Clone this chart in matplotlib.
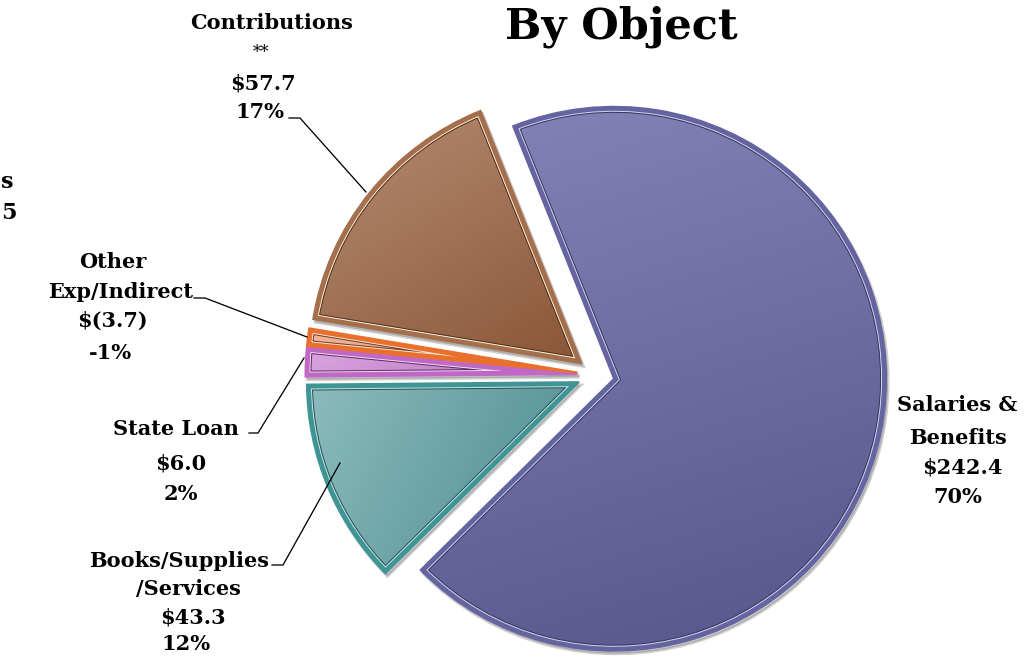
import matplotlib
matplotlib.use("Agg")
import matplotlib.pyplot as plt
import numpy as np
from matplotlib.patches import PathPatch
from matplotlib.colors import LinearSegmentedColormap
from matplotlib.transforms import offset_copy

# ---- data -------------------------------------------------------------
categories = ["Salaries &\nBenefits", "Books/Supplies\n/Services", "State Loan",
              "Other\nExp/Indirect", "Contributions"]
amounts = [242.4, 43.3, 6.0, -3.7, 57.7]          # $ millions
amount_labels = ["$242.4", "$43.3", "$6.0", "$(3.7)", "$57.7"]
percent_labels = ["70%", "12%", "2%", "-1%", "17%"]
title = "By Object"

# ---- styling ----------------------------------------------------------
# (light fill, dark fill, border, highlight line, inner shade line, gradient direction)
slice_styles = [
    ("#8484b8", "#55558b", "#6464a0", "#d4d4ee", "#35355e", (0.25, -1.0)),
    ("#8cbcbf", "#4b8b8d", "#3f9496", "#cde6e6", "#244f50", (1.0, -0.35)),
    ("#dca6e0", "#b46dbc", "#bf68c6", "#f4d6f4", "#5e2f64", (1.0, -0.2)),
    ("#f2b497", "#e08d6c", "#e86f2c", "#ffe2cc", "#6e3f2e", (1.0, -0.2)),
    ("#b78d74", "#8a5636", "#a46f4c", "#fff0dc", "#4e2c18", (0.55, -0.85)),
]
explode = [0.068] * len(amounts)

W, H = 1031, 660
R_PX = 272.0                 # pie radius in pixels
CX, CY = 596.0, 375.0        # pie centre in pixels (from top-left)

serif = ["DejaVu Serif"]

fig = plt.figure(figsize=(W / 100, H / 100), dpi=100)
fig.patch.set_facecolor("white")

# pie axes: one data unit == one pie radius
ax = fig.add_axes([0, 0, 1, 1])
sizes = np.abs(amounts)
wedges, _ = ax.pie(sizes, radius=1.0, center=(0, 0), startangle=111.8,
                   counterclock=False, explode=explode,
                   wedgeprops=dict(facecolor="none", linewidth=0))
ax.set_xlim(-CX / R_PX, (W - CX) / R_PX)
ax.set_ylim(-(H - CY) / R_PX, CY / R_PX)
ax.set_aspect("equal")
ax.axis("off")

pt = 0.72         # one pixel in points at 100 dpi

shadow_tr = offset_copy(ax.transData, fig=fig, x=2, y=-3, units="dots")

for w, (light, dark, border, hilite, shade, gdir) in zip(wedges, slice_styles):
    path = w.get_path()
    verts = path.vertices
    x0, y0 = verts.min(axis=0)
    x1, y1 = verts.max(axis=0)

    # soft drop shadow
    sh = PathPatch(path, transform=shadow_tr, facecolor="#000000", alpha=0.18,
                   edgecolor="#000000", linewidth=3 * pt, zorder=0.5)
    ax.add_patch(sh)

    # gradient fill clipped to the wedge
    gx, gy = np.meshgrid(np.linspace(0, 1, 200), np.linspace(0, 1, 200))
    dx, dy = gdir
    g = gx * dx + gy * dy
    g = (g - g.min()) / (g.max() - g.min())
    cmap = LinearSegmentedColormap.from_list("fill", [light, dark])
    im = ax.imshow(g, cmap=cmap, origin="lower", extent=(x0, x1, y0, y1),
                   interpolation="bilinear", zorder=1, aspect="auto")
    im.set_clip_path(w)

    # layered inner outline: shade line, highlight line, coloured border
    for lw_px, col in ((6, shade), (5, hilite), (4, border)):
        p = PathPatch(path, transform=ax.transData, facecolor="none",
                      edgecolor=col, linewidth=2 * lw_px * pt,
                      joinstyle="miter", zorder=2)
        ax.add_patch(p)
        p.set_clip_path(w)
    outer = PathPatch(path, transform=ax.transData, facecolor="none",
                      edgecolor=border, linewidth=2 * pt, joinstyle="miter",
                      zorder=3)
    ax.add_patch(outer)

ax.set_xlim(-CX / R_PX, (W - CX) / R_PX)
ax.set_ylim(-(H - CY) / R_PX, CY / R_PX)

# overlay axes in pixel coordinates for labels and leader lines
tax = fig.add_axes([0, 0, 1, 1], facecolor="none")
tax.set_xlim(0, W)
tax.set_ylim(H, 0)
tax.axis("off")

LABEL_FS = 15


def put(x, y, s, fs=LABEL_FS, weight="bold"):
    tax.text(x, y, s, ha="center", va="baseline", fontsize=fs,
             fontweight=weight, family=serif, color="#000000")


name_lines = [c.split("\n") for c in categories]

# Salaries & Benefits
put(957, 411, name_lines[0][0]); put(958, 444, name_lines[0][1])
put(962, 474, amount_labels[0]); put(958, 503, percent_labels[0])
# Books/Supplies/Services
put(179, 567, name_lines[1][0]); put(188, 595, name_lines[1][1])
put(193, 623, amount_labels[1]); put(186, 650, percent_labels[1])
# State Loan
put(176, 435, name_lines[2][0])
put(181, 469, amount_labels[2]); put(181, 500, percent_labels[2])
# Other Exp/Indirect
put(113, 268, name_lines[3][0]); put(121, 298, name_lines[3][1])
put(112, 327, amount_labels[3]); put(110, 359, percent_labels[3])
# Contributions
put(272, 29, name_lines[4][0])
put(261, 57, "**", fs=12, weight="normal")
put(263, 90, amount_labels[4]); put(260, 118, percent_labels[4])

# tail ends of a label sitting at the far left edge
tax.text(1, 188, "s", ha="left", va="baseline", fontsize=LABEL_FS + 1,
         fontweight="bold", family=serif)
tax.text(1, 219, "5", ha="left", va="baseline", fontsize=LABEL_FS + 1,
         fontweight="bold", family=serif)

# title
tax.text(621, 39, title, ha="center", va="baseline", fontsize=31,
         fontweight="bold", family=serif)

# leader lines
leaders = [
    [(289, 118), (300, 118), (366, 192)],
    [(194, 298), (205, 298), (307, 337)],
    [(249, 433), (258, 433), (304, 358)],
    [(272, 565), (283, 565), (340, 463)],
]
for pts in leaders:
    xs, ys = zip(*pts)
    tax.plot(xs, ys, color="#000000", linewidth=1.3 * pt,
             solid_joinstyle="miter")

fig.savefig("out.png", dpi=100, facecolor="white")
